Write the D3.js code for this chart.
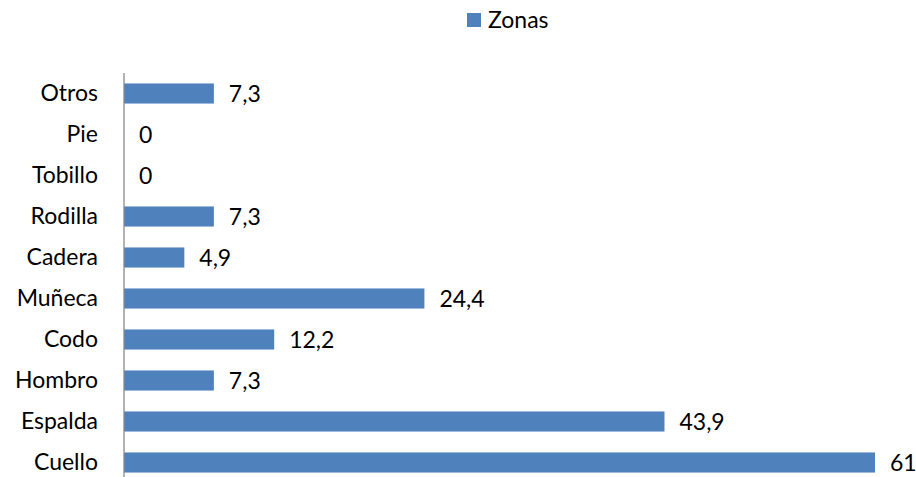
<!DOCTYPE html>
<html>
<head>
<meta charset="utf-8">
<script src="https://cdn.jsdelivr.net/npm/d3@7"></script>
<style>
  html, body { margin: 0; padding: 0; background: #fff; }
  svg { display: block; font-family: Lato, "Open Sans", sans-serif; }
</style>
</head>
<body>
<svg id="chart" width="916" height="477"></svg>
<script>
// Categories listed from top to bottom
const categories = ["Otros", "Pie", "Tobillo", "Rodilla", "Cadera", "Muñeca", "Codo", "Hombro", "Espalda", "Cuello"];
const values = [7.3, 0, 0, 7.3, 4.9, 24.4, 12.2, 7.3, 43.9, 61];
const seriesName = "Zonas";

const barColor = "#4f81bd";
const fontSize = 23;
const fmt = v => String(v).replace(".", ",");

const svg = d3.select("#chart");

const x = d3.scaleLinear().domain([0, 61]).range([124, 875]);
const y = d3.scaleBand().domain(categories).range([73, 483])
  .paddingInner(0.51).paddingOuter(0.255);

// Bars
svg.append("g").selectAll("rect")
  .data(categories)
  .join("rect")
  .attr("x", x(0))
  .attr("y", d => y(d))
  .attr("width", (d, i) => x(values[i]) - x(0))
  .attr("height", y.bandwidth())
  .attr("fill", barColor);

// Category axis
const yAxis = svg.append("g")
  .attr("transform", `translate(${x(0)},0)`)
  .call(d3.axisLeft(y).tickSize(0).tickPadding(26));
yAxis.select(".domain").attr("stroke", "#898989").attr("stroke-width", 1.3)
  .attr("d", `M0,73V477`);
yAxis.selectAll("text")
  .attr("font-size", fontSize)
  .attr("font-family", "Lato, 'Open Sans', sans-serif")
  .attr("fill", "#000");

// Value labels
svg.append("g").selectAll("text")
  .data(categories)
  .join("text")
  .attr("x", (d, i) => x(values[i]) + 15)
  .attr("y", d => y(d) + y.bandwidth() / 2)
  .attr("dy", "0.35em")
  .attr("font-size", fontSize)
  .attr("fill", "#000")
  .text((d, i) => fmt(values[i]));

// Legend
const legend = svg.append("g").attr("transform", "translate(467,13)");
legend.append("rect").attr("width", 14).attr("height", 14).attr("fill", barColor);
legend.append("text").attr("x", 21).attr("y", 7).attr("dy", "0.35em")
  .attr("font-size", fontSize).attr("fill", "#000").text(seriesName);
</script>
</body>
</html>
